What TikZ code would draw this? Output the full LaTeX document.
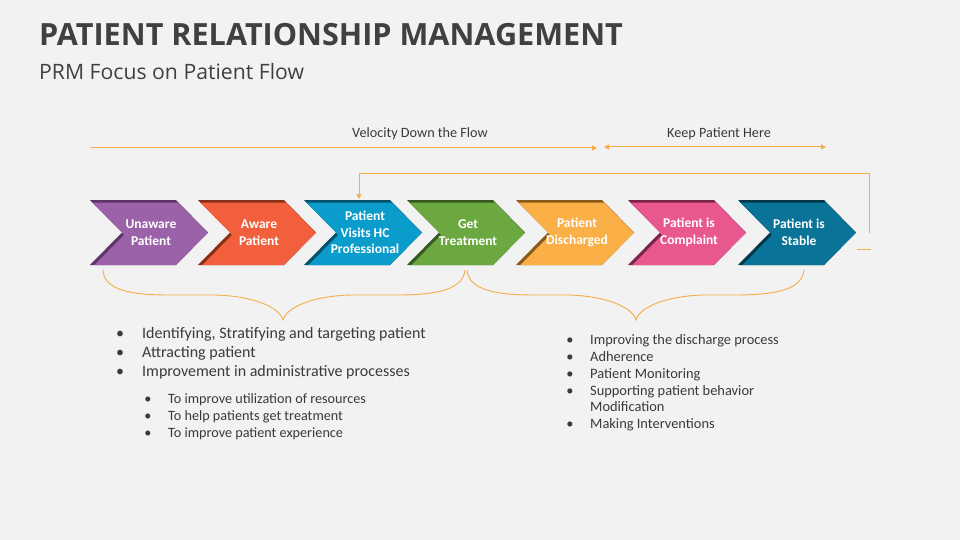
\documentclass[tikz,border=0pt]{standalone}
\usepackage{fontspec}
\setmainfont{Carlito}
\newfontfamily\osans{Open Sans}
\usetikzlibrary{arrows.meta}
\definecolor{bg}{HTML}{F2F2F2}
\definecolor{ttl}{HTML}{404040}
\definecolor{txt}{HTML}{3A3A3A}
\definecolor{orn}{HTML}{F6AC48}
\definecolor{cPur}{HTML}{9B61A9}\definecolor{dPur}{HTML}{5E3468}
\definecolor{cRed}{HTML}{F25F3C}\definecolor{dRed}{HTML}{8A2E18}
\definecolor{cBlu}{HTML}{0A9DCB}\definecolor{dBlu}{HTML}{05506A}
\definecolor{cGrn}{HTML}{6BA83F}\definecolor{dGrn}{HTML}{37591F}
\definecolor{cAmb}{HTML}{FBAF47}\definecolor{dAmb}{HTML}{8A5A18}
\definecolor{cPnk}{HTML}{E8588F}\definecolor{dPnk}{HTML}{7A2448}
\definecolor{cTea}{HTML}{0A7398}\definecolor{dTea}{HTML}{043848}
\tikzset{
  chevtxt/.style={text=white,font=\fontsize{13.5}{16.5}\selectfont\bfseries,align=center,inner sep=0pt},
  bodytxt/.style={text=txt,anchor=base west,inner sep=0pt},
  bul/.style={text=txt,anchor=base,inner sep=0pt},
  orangeline/.style={draw=orn,line width=1pt},
  arrtip/.style={-{Triangle[length=5pt,width=5pt]}},
}
\newcommand\chev[5]{%
  \begin{scope}
    \path[clip] (#1,200) -- ++(86,0) -- ++(32,32.5) -- ++(-32,32.5) -- ++(-86,0) -- ++(32,-32.5) -- cycle;
    \fill[#3] (#1-5,195) rectangle (#1+125,270);
    \fill[#2] (#1+2,202.5) -- ++(86,0) -- ++(32,32.5) -- ++(-32,32.5) -- ++(-86,0) -- ++(32,-32.5) -- cycle;
  \end{scope}
  \node[chevtxt] (#4) at (#1+61,232.5) {#5};
}
\begin{document}
\begin{tikzpicture}[x=1pt,y=-1pt]
\fill[bg] (0,0) rectangle (960,540);
\useasboundingbox (0,0) rectangle (960,540);

% title
\node[anchor=base west,inner sep=0pt,text=ttl,font=\osans\fontsize{30.6}{36}\selectfont\bfseries] (title) at (39,46) {PATIENT RELATIONSHIP MANAGEMENT};
\node[anchor=base west,inner sep=0pt,text=ttl,font=\osans\fontsize{21.2}{24}\selectfont] (sub) at (39,80) {PRM Focus on Patient Flow};

% top arrows
\node[text=txt,font=\fontsize{14.2}{16}\selectfont,inner sep=0pt] (vel) at (420,134) {Velocity Down the Flow};
\node[text=txt,font=\fontsize{14.2}{16}\selectfont,inner sep=0pt] (keep) at (719,134) {Keep Patient Here};
\coordinate (v1) at (90,148);
\coordinate (v2) at (597,148);
\coordinate (k1) at (604,147);
\coordinate (k2) at (826,147);
\draw[orangeline,arrtip] (v1) -- (v2);
\draw[orangeline,{Triangle[length=5pt,width=5pt]}-{Triangle[length=5pt,width=5pt]}] (k1) -- (k2);

% chevrons
\chev{90}{cPur}{dPur}{c1}{Unaware\\Patient}
\chev{198}{cRed}{dRed}{c2}{Aware\\Patient}
\chev{304}{cBlu}{dBlu}{c3}{Patient\\Visits HC\\Professional}
\chev{407}{cGrn}{dGrn}{c4}{Get\\Treatment}
\chev{516}{cAmb}{dAmb}{c5}{Patient\\Discharged}
\chev{628}{cPnk}{dPnk}{c6}{Patient is\\Complaint}
\chev{738}{cTea}{dTea}{c7}{Patient is\\Stable}

% feedback loop
\coordinate (l1) at (869,233);
\coordinate (l2) at (869,174);
\coordinate (l3) at (359,174);
\coordinate (l4) at (359,199);
\draw[orangeline,arrtip] (l1) -- (l2) -- (l3) -- (l4);
\coordinate (d1) at (857,249);
\coordinate (d2) at (871,249);
\draw[orangeline] (d1) -- (d2);

% braces
\draw[draw=orn,line width=0.9pt] (103,270) .. controls (104,290) and (130,295) .. (170,295)
  -- (215,295) .. controls (255,296) and (280,308) .. (283,320)
  .. controls (286,308) and (311,296) .. (351,295) -- (396,295)
  .. controls (436,295) and (463,290) .. (465,270);
\draw[draw=orn,line width=0.9pt] (467,270) .. controls (469,290) and (495,295) .. (535,295)
  -- (568,295) .. controls (608,296) and (633,308) .. (636,320)
  .. controls (639,308) and (664,296) .. (704,295) -- (735,295)
  .. controls (775,295) and (802,290) .. (804,270);

% left list
\begin{scope}[font=\fontsize{16}{18}\selectfont]
\node[bul] (b1) at (120,338) {•};
\node[bodytxt] (t1) at (142,338) {Identifying, Stratifying and targeting patient};
\node[bul] (b2) at (120,357) {•};
\node[bodytxt] (t2) at (142,357) {Attracting patient};
\node[bul] (b3) at (120,376) {•};
\node[bodytxt] (t3) at (142,376) {Improvement in administrative processes};
\end{scope}
\begin{scope}[font=\fontsize{14.2}{16}\selectfont]
\node[bul] (s1) at (148,403) {•};
\node[bodytxt] (u1) at (168,403) {To improve utilization of resources};
\node[bul] (s2) at (148,420) {•};
\node[bodytxt] (u2) at (168,420) {To help patients get treatment};
\node[bul] (s3) at (148,437) {•};
\node[bodytxt] (u3) at (168,437) {To improve patient experience};
\end{scope}

% right list
\begin{scope}[font=\fontsize{14.4}{16}\selectfont]
\node[bul] (r1) at (570,344) {•};
\node[bodytxt] (q1) at (590,344) {Improving the discharge process};
\node[bul] (r2) at (570,361) {•};
\node[bodytxt] (q2) at (590,361) {Adherence};
\node[bul] (r3) at (570,378) {•};
\node[bodytxt] (q3) at (590,378) {Patient Monitoring};
\node[bul] (r4) at (570,395) {•};
\node[bodytxt] (q4) at (590,395) {Supporting patient behavior};
\node[bodytxt] (q5) at (590,411) {Modification};
\node[bul] (r6) at (570,428) {•};
\node[bodytxt] (q6) at (590,428) {Making Interventions};
\end{scope}
\end{tikzpicture}
\end{document}
